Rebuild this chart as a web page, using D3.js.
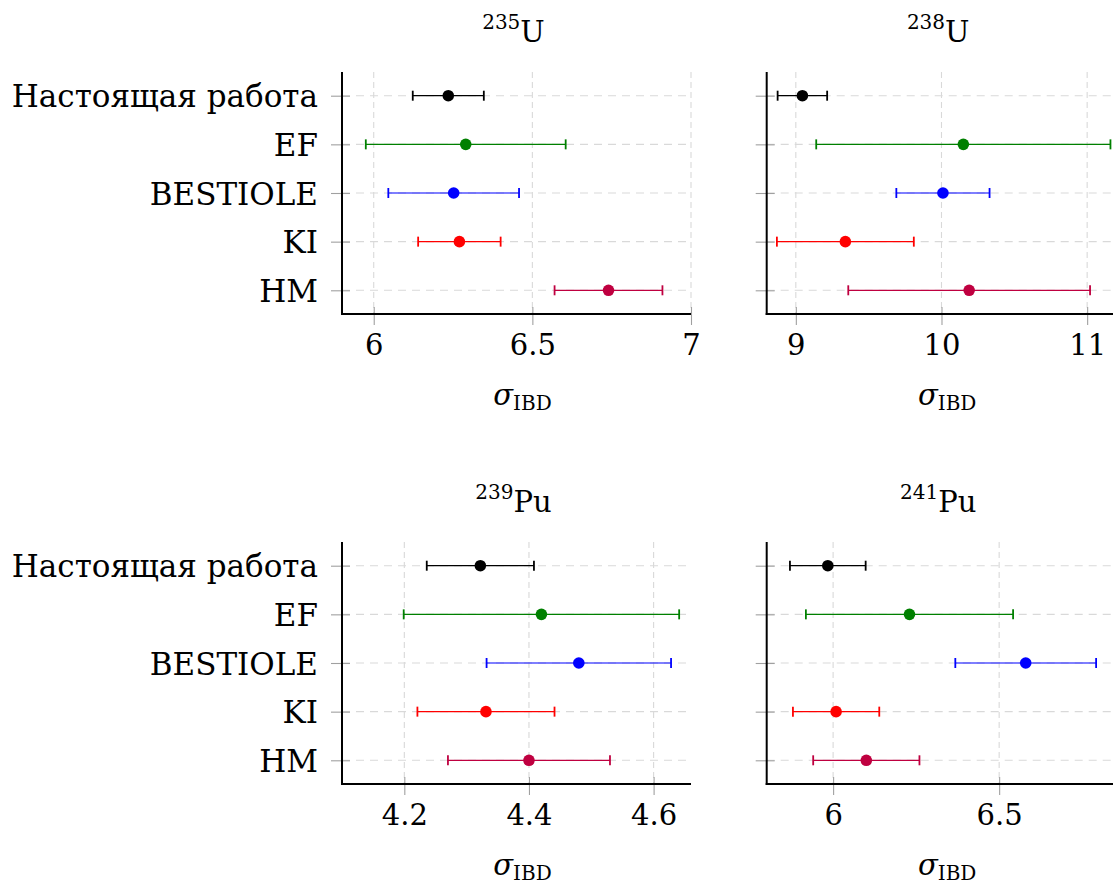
<!DOCTYPE html>
<html>
<head>
<meta charset="utf-8">
<script src="https://cdn.jsdelivr.net/npm/d3@7/dist/d3.min.js"></script>
<style>
  html, body { margin: 0; padding: 0; background: #fff; }
  svg { display: block; }
  text { font-family: "DejaVu Serif", "Liberation Serif", serif; fill: #000; }
</style>
</head>
<body>
<svg id="chart" width="1113" height="892"></svg>
<script>
// ---------- data ----------
const categories = ["Настоящая работа", "EF", "BESTIOLE", "KI", "HM"];
const seriesColors = ["#000000", "#008000", "#0000ff", "#ff0000", "#bf0040"];

const isotopeMass = ["235", "238", "239", "241"];
const isotopeSymbol = ["U", "U", "Pu", "Pu"];

const u235Values = [6.235, 6.29, 6.252, 6.27, 6.74];
const u235Errors = [0.112, 0.315, 0.206, 0.13, 0.17];
const u235Domain = [5.9, 7.0];
const u235Ticks = [6, 6.5, 7];

const u238Values = [9.045, 10.15, 10.01, 9.34, 10.19];
const u238Errors = [0.17, 1.01, 0.32, 0.47, 0.83];
const u238Domain = [8.8, 11.196];
const u238Ticks = [9, 10, 11];

const pu239Values = [4.322, 4.42, 4.48, 4.331, 4.40];
const pu239Errors = [0.086, 0.221, 0.148, 0.11, 0.13];
const pu239Domain = [4.1, 4.66];
const pu239Ticks = [4.2, 4.4, 4.6];

const pu241Values = [5.984, 6.23, 6.58, 6.009, 6.10];
const pu241Errors = [0.114, 0.312, 0.212, 0.13, 0.16];
const pu241Domain = [5.8, 6.851];
const pu241Ticks = [6, 6.5];

const panels = [
  { values: u235Values, errors: u235Errors, domain: u235Domain, ticks: u235Ticks, col: 0, row: 0 },
  { values: u238Values, errors: u238Errors, domain: u238Domain, ticks: u238Ticks, col: 1, row: 0 },
  { values: pu239Values, errors: pu239Errors, domain: pu239Domain, ticks: pu239Ticks, col: 0, row: 1 },
  { values: pu241Values, errors: pu241Errors, domain: pu241Domain, ticks: pu241Ticks, col: 1, row: 1 }
];

// ---------- layout ----------
const lefts = [342, 766.7];
const tops = [72, 542];
const W = 349, H = 242;

const svg = d3.select("#chart");

panels.forEach((p, pi) => {
  const x0 = lefts[p.col], y0 = tops[p.row];
  const g = svg.append("g").attr("transform", `translate(${x0},${y0})`);

  const x = d3.scaleLinear().domain(p.domain).range([0, W]);
  const y = d3.scalePoint().domain(categories).range([23.7, H - 23.7]);

  // vertical grid
  g.append("g").selectAll("line").data(p.ticks).join("line")
    .attr("x1", d => x(d)).attr("x2", d => x(d))
    .attr("y1", 0).attr("y2", H)
    .attr("stroke", "#d9d9d9").attr("stroke-width", 1.1)
    .attr("stroke-dasharray", "6,4");
  // horizontal grid
  g.append("g").selectAll("line").data(categories).join("line")
    .attr("x1", 0).attr("x2", W - 2)
    .attr("y1", d => y(d)).attr("y2", d => y(d))
    .attr("stroke", "#d9d9d9").attr("stroke-width", 1.1)
    .attr("stroke-dasharray", "8,6");

  // x axis ticks and labels
  const xAxis = d3.axisBottom(x).tickValues(p.ticks)
    .tickSize(11).tickPadding(8).tickFormat(d3.format("~g"));
  const xg = g.append("g").attr("transform", `translate(0,${H})`).call(xAxis);
  xg.select(".domain").remove();
  xg.selectAll(".tick line").attr("stroke", "#a0a0a0").attr("stroke-width", 1.1)
    .attr("y1", -7);
  xg.selectAll(".tick text").attr("font-size", 29)
    .attr("fill", "#000")
    .attr("dy", "0.62em").attr("y", 23);

  // y axis ticks and labels
  const yAxis = d3.axisLeft(y).tickSize(11).tickPadding(13)
    .tickFormat(d => p.col === 0 ? d : "");
  const yg = g.append("g").call(yAxis);
  yg.select(".domain").remove();
  yg.selectAll(".tick line").attr("stroke", "#a0a0a0").attr("stroke-width", 1.1)
    .attr("x1", 8);
  yg.selectAll(".tick text").attr("font-size", 31)
    .attr("fill", "#000")
    .attr("dy", "0.36em");

  // axis lines (left and bottom)
  g.append("line").attr("x1", 0).attr("x2", 0).attr("y1", 0).attr("y2", H + 1)
    .attr("stroke", "#000").attr("stroke-width", 2);
  g.append("line").attr("x1", -1).attr("x2", W).attr("y1", H).attr("y2", H)
    .attr("stroke", "#000").attr("stroke-width", 2);

  // error bars
  const bars = g.append("g").selectAll("g").data(categories).join("g");
  bars.append("line")
    .attr("x1", (d, i) => x(p.values[i] - p.errors[i]))
    .attr("x2", (d, i) => x(p.values[i] + p.errors[i]))
    .attr("y1", d => y(d)).attr("y2", d => y(d))
    .attr("stroke", (d, i) => seriesColors[i]).attr("stroke-width", 1.2);
  [-1, 1].forEach(s => {
    bars.append("line")
      .attr("x1", (d, i) => x(p.values[i] + s * p.errors[i]))
      .attr("x2", (d, i) => x(p.values[i] + s * p.errors[i]))
      .attr("y1", d => y(d) - 5).attr("y2", d => y(d) + 5)
      .attr("stroke", (d, i) => seriesColors[i]).attr("stroke-width", 1.8);
  });
  bars.append("circle")
    .attr("cx", (d, i) => x(p.values[i]))
    .attr("cy", d => y(d))
    .attr("r", 5.8)
    .attr("fill", (d, i) => seriesColors[i]);

  // title
  const title = svg.append("text")
    .attr("x", x0 + W / 2 - 3).attr("y", y0 - 30.5)
    .attr("text-anchor", "middle");
  title.append("tspan").attr("font-size", 20).attr("dy", -13).text(isotopeMass[pi]);
  title.append("tspan").attr("font-size", 29).attr("dy", 13).text(isotopeSymbol[pi]);

  // x label
  const xl = svg.append("text")
    .attr("x", x0 + W / 2 + 6).attr("y", y0 + H + 91)
    .attr("text-anchor", "middle");
  xl.append("tspan").attr("font-size", 29).attr("font-style", "italic").text("σ");
  xl.append("tspan").attr("font-size", 20).attr("dy", 5).text("IBD");
});
</script>
</body>
</html>
